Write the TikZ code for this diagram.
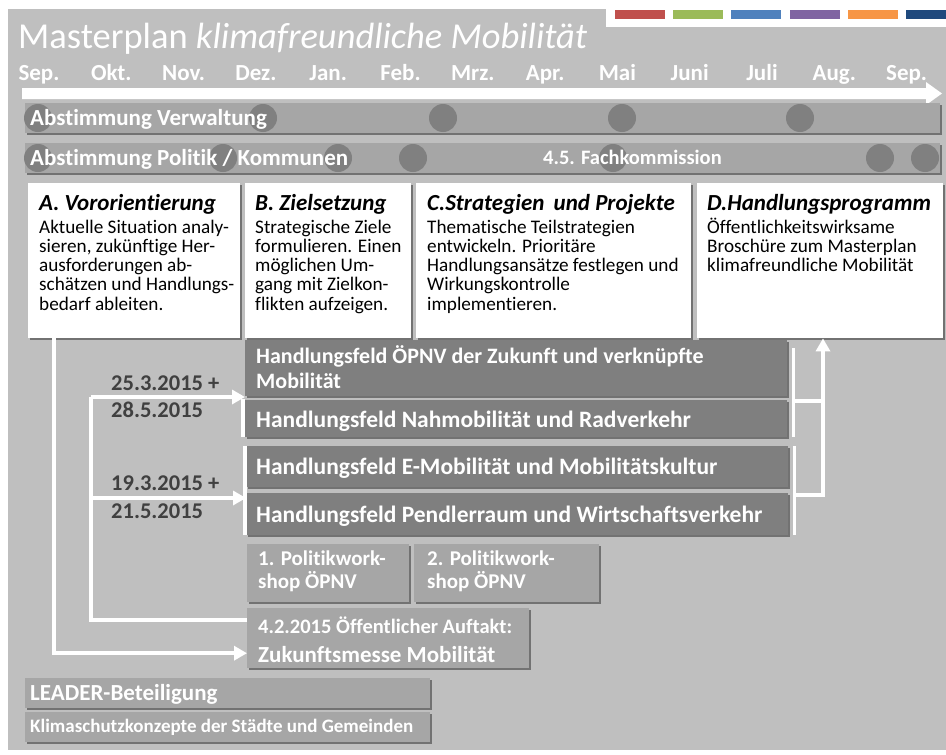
\documentclass[tikz,border=0pt]{standalone}
\usepackage{fontspec}
\setmainfont{Carlito}[Ligatures={NoCommon,NoContextual,NoRare}]
\usetikzlibrary{shadows,arrows.meta,calc}
\definecolor{bg}{HTML}{BFBFBF}
\definecolor{barc}{HTML}{A6A6A6}
\definecolor{dotc}{HTML}{808080}
\definecolor{hfc}{HTML}{7F7F7F}
\definecolor{datec}{HTML}{404040}
\definecolor{cred}{HTML}{C0504D}
\definecolor{cgreen}{HTML}{9BBB59}
\definecolor{cblue}{HTML}{4F81BD}
\definecolor{cpurple}{HTML}{8064A2}
\definecolor{corange}{HTML}{F79646}
\definecolor{cnavy}{HTML}{1F497D}
\newcommand\ml[2]{\vtop{\baselineskip=#1\relax\lineskiplimit=-30pt\lineskip=0pt\halign{##\hfil\cr#2\crcr}}}
\newcommand\fsz[1]{\fontsize{#1}{#1}\selectfont}
\tikzset{
  shad/.style={drop shadow={shadow xshift=1.5pt,shadow yshift=-2pt,opacity=0.4,fill=black}},
  boxbase/.style={inner sep=0pt,anchor=north west,shad},
  barbox/.style={boxbase,fill=barc},
  wbox/.style={boxbase,fill=white},
  hfbox/.style={boxbase,fill=hfc},
  gbox/.style={boxbase,fill=barc},
  dotnode/.style={circle,fill=dotc,minimum size=28pt,inner sep=0pt},
  wlbl/.style={anchor=base west,inner sep=0pt,text=white,font=\bfseries\fsz{23}},
  blk/.style={anchor=base west,inner sep=0pt,text=black},
  hd/.style={blk,font=\bfseries\itshape\fsz{23}},
  bodytxt/.style={blk,font=\fsz{19.2}},
  datetxt/.style={anchor=base west,inner sep=0pt,text=datec,font=\bfseries\fsz{22.5}},
  conn/.style={draw=white,line width=4pt},
  brk/.style={draw=white,line width=3.5pt},
  tipw/.style={-{Triangle[length=13pt,width=14pt]}}
}
\begin{document}
\begin{tikzpicture}[x=1pt,y=-1pt]
\useasboundingbox (0,0) rectangle (946,755);
\fill[white] (0,0) rectangle (946,755);
\fill[bg] (8,9) rectangle (946,750);
\fill[white] (606,0) rectangle (946,27);
% colour strip
\fill[cred] (615,10) rectangle (665,19);
\fill[cgreen] (673,10) rectangle (723,19);
\fill[cblue] (731,10) rectangle (781,19);
\fill[cpurple] (790,10) rectangle (840,19);
\fill[corange] (848,10) rectangle (898,19);
\fill[cnavy] (906,10) rectangle (946,19);
% title
\node[anchor=base west,inner sep=0pt,text=white,font=\fsz{36.5}] (title) at (18,48) {Masterplan \textit{klimafreundliche Mobilität}};
% months
\foreach \m [count=\i from 0] in {Sep.,Okt.,Nov.,Dez.,Jan.,Feb.,Mrz.,Apr.,Mai,Juni,Juli,Aug.,Sep.}
  \node[anchor=base,inner sep=0pt,text=white,font=\bfseries\fsz{23}] (m\i) at (39+72.3*\i,80) {\m};
% timeline arrow
\fill[white] (22,88) -- (926,88) -- (926,82) -- (942,93.5) -- (926,105) -- (926,99) -- (22,99) -- cycle;
% bars
\node[barbox,minimum width=915pt,minimum height=30pt] (bar1) at (25,103) {};
\node[barbox,minimum width=915pt,minimum height=30pt] (bar2) at (25,143) {};
\foreach \x [count=\i] in {38,263,443,622,800}
  \node[dotnode] (da\i) at (\x,118) {};
\foreach \x [count=\i] in {38,223,338,413,613,880,925}
  \node[dotnode] (db\i) at (\x,158) {};
\node[wlbl] (bar1t) at (30,125.5) {Abstimmung Verwaltung};
\node[wlbl] (bar2t) at (30,165.5) {Abstimmung Politik / Kommunen};
\node[wlbl,font=\bfseries\fsz{20.5}] (fk) at (543,164.5) {4.5. Fachkommission};
% phase boxes
\node[wbox,minimum width=212pt,minimum height=155pt] (A) at (28,183) {};
\node[wbox,minimum width=166pt,minimum height=155pt] (B) at (245,183) {};
\node[wbox,minimum width=275pt,minimum height=155pt] (C) at (416,183) {};
\node[wbox,minimum width=246pt,minimum height=155pt] (D) at (697,183) {};
\node[hd] (Ah) at (39,210) {A. Vororientierung};
\node[bodytxt] (Ab) at (39,233) {\ml{19.3pt}{Aktuelle Situation analy-\cr sieren, zukünftige Her-\cr ausforderungen ab-\cr schätzen und Handlungs-\cr bedarf ableiten.}};
\node[hd] (Bh) at (255,210) {B. Zielsetzung};
\node[bodytxt] (Bb) at (255,233) {\ml{19.3pt}{Strategische Ziele\cr formulieren. Einen\cr möglichen Um-\cr gang mit Zielkon-\cr flikten aufzeigen.}};
\node[hd] (Ch) at (427,210) {C.Strategien\hspace{4pt} und Projekte};
\node[bodytxt] (Cb) at (427,233) {\ml{19.3pt}{Thematische Teilstrategien\cr entwickeln. Prioritäre\cr Handlungsansätze festlegen und\cr Wirkungskontrolle\cr implementieren.}};
\node[hd] (Dh) at (707,210) {D.Handlungsprogramm};
\node[bodytxt] (Db) at (707,233) {\ml{19.3pt}{Öffentlichkeitswirksame\cr Broschüre zum Masterplan\cr klimafreundliche Mobilität}};
% Handlungsfelder
\node[hfbox,minimum width=542pt,minimum height=56pt] (hf1) at (245,340) {};
\node[hfbox,minimum width=542pt,minimum height=37pt] (hf2) at (245,400) {};
\node[hfbox,minimum width=542pt,minimum height=41pt] (hf3) at (246,446) {};
\node[hfbox,minimum width=542pt,minimum height=42pt] (hf4) at (246,493) {};
\node[wlbl,font=\bfseries\fsz{22}] (hf1t) at (256,363) {\ml{25.5pt}{Handlungsfeld ÖPNV der Zukunft und verknüpfte\cr Mobilität}};
\node[wlbl,font=\bfseries\fsz{23.5}] (hf2t) at (256,427) {Handlungsfeld Nahmobilität und Radverkehr};
\node[wlbl,font=\bfseries\fsz{23.5}] (hf3t) at (256,474) {Handlungsfeld E-Mobilität und Mobilitätskultur};
\node[wlbl,font=\bfseries\fsz{23.5}] (hf4t) at (256,522) {Handlungsfeld Pendlerraum und Wirtschaftsverkehr};
% dates
\node[datetxt] (d1) at (111,390) {25.3.2015 +};
\node[datetxt] (d2) at (111,417) {28.5.2015};
\node[datetxt] (d3) at (111,490) {19.3.2015 +};
\node[datetxt] (d4) at (111,518) {21.5.2015};
% workshops etc.
\node[gbox,minimum width=162pt,minimum height=58pt] (pw1) at (247,544) {};
\node[gbox,minimum width=185pt,minimum height=58pt] (pw2) at (414,544) {};
\node[wlbl,font=\bfseries\fsz{21}] (pw1t) at (258,565) {\ml{23pt}{1. Politikwork-\cr shop ÖPNV}};
\node[wlbl,font=\bfseries\fsz{21}] (pw2t) at (427,565) {\ml{23pt}{2. Politikwork-\cr shop ÖPNV}};
\node[gbox,minimum width=282pt,minimum height=60pt] (auft) at (247,608) {};
\node[wlbl,font=\bfseries\fsz{20.5}] (auft1) at (258,633) {4.2.2015 Öffentlicher Auftakt:};
\node[wlbl,font=\bfseries\fsz{23}] (auft2) at (258,662) {Zukunftsmesse Mobilität};
\node[gbox,minimum width=405pt,minimum height=30pt] (lead) at (25,678) {};
\node[wlbl,font=\bfseries\fsz{23}] (leadt) at (30,700) {LEADER-Beteiligung};
\node[gbox,minimum width=405pt,minimum height=30pt] (klima) at (25,712) {};
\node[wlbl,font=\bfseries\fsz{19}] (klimat) at (30,732) {Klimaschutzkonzepte der Städte und Gemeinden};
% connectors
\coordinate (trunk) at (91,397);
\coordinate (trunk2) at (91,498);
\coordinate (r1) at (793,401);
\coordinate (r2) at (793,495);
\coordinate (up) at (823,495);
\draw[conn,tipw] ([xshift=26pt]A.south west) |- ([yshift=-15pt]auft.west);
\draw[conn] ([yshift=18pt]auft.west) -| (trunk);
\draw[conn,tipw] (trunk) -- (trunk -| hf2.west);
\draw[conn,tipw] (trunk2) -- (trunk2 -| hf4.west);
\draw[brk] ([xshift=-2pt,yshift=1pt]hf2.north west) -- ([xshift=-2pt]hf2.south west);
\draw[brk] ([xshift=-1pt]hf3.north west) -- ([xshift=-1pt]hf4.south west);
\draw[brk] ([xshift=6pt,yshift=-8pt]hf1.north east) -- ([xshift=6pt]hf2.south east);
\draw[brk] ([xshift=6pt]hf3.north east) -- ([xshift=6pt]hf4.south east);
\draw[conn] (r1) -- (r1 -| up);
\draw[conn,tipw] (r2) -- (up) -- (up |- D.south);
\end{tikzpicture}
\end{document}
